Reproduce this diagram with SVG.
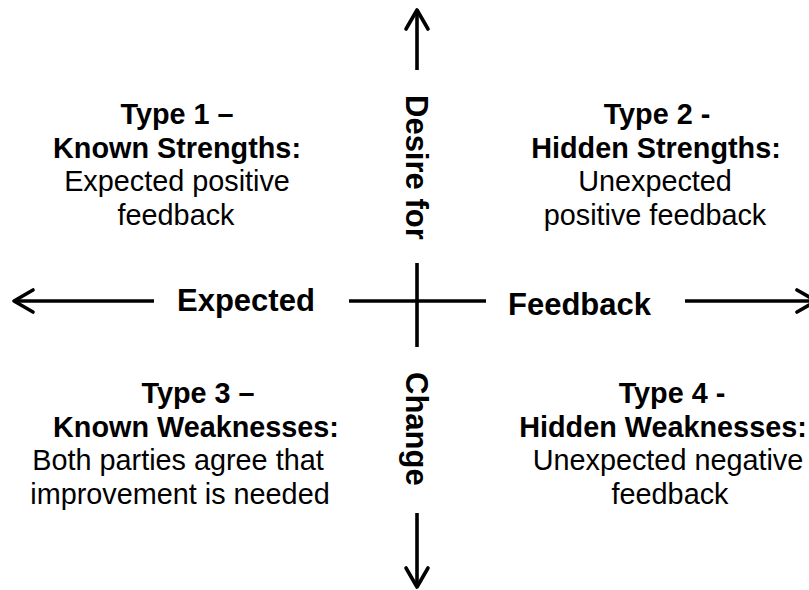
<svg xmlns="http://www.w3.org/2000/svg" width="809" height="590" viewBox="0 0 809 590">
  <style>
    .axis { stroke: #000; stroke-width: 3.6; fill: none; }
    .head { stroke: #000; stroke-width: 3.6; fill: none; stroke-linecap: round; stroke-linejoin: round; }
    text { font-family: "Liberation Sans", Arial, Helvetica, sans-serif; fill: #000; }
    .lbl { font-size: 31px; font-weight: bold; }
    .q { font-size: 28.8px; text-anchor: middle; }
    .b { font-weight: bold; }
  </style>
  <rect width="809" height="590" fill="#fff"/>

  <!-- axes -->
  <g id="connectors">
    <!-- horizontal axis -->
    <line class="axis" x1="14" y1="301" x2="154" y2="301"/>
    <line class="axis" x1="349" y1="301" x2="486" y2="301"/>
    <line class="axis" x1="685" y1="301" x2="814" y2="301"/>
    <polyline class="head" points="33,290 14,301 33,312"/>
    <polyline class="head" points="797,290 816,301 797,312"/>
    <!-- vertical axis -->
    <line class="axis" x1="417" y1="10" x2="417" y2="70"/>
    <line class="axis" x1="417" y1="263" x2="417" y2="347"/>
    <line class="axis" x1="417" y1="513" x2="417" y2="587"/>
    <polyline class="head" points="406,29 417,10 428,29"/>
    <polyline class="head" points="406,568 417,587 428,568"/>
  </g>

  <!-- axis labels -->
  <g id="axis-labels">
    <text class="lbl" x="177" y="311">Expected</text>
    <text class="lbl" x="508" y="315">Feedback</text>
    <text class="lbl" transform="translate(406,95) rotate(90)">Desire for</text>
    <text class="lbl" transform="translate(406,372) rotate(90)">Change</text>
  </g>

  <g id="type1">
    <text class="q b" x="177" y="124">Type 1 –</text>
    <text class="q b" x="177" y="158">Known Strengths:</text>
    <text class="q" x="177" y="191">Expected positive</text>
    <text class="q" x="176" y="225">feedback</text>
  </g>

  <g id="type2">
    <text class="q b" x="657" y="124">Type 2 -</text>
    <text class="q b" x="656" y="158">Hidden Strengths:</text>
    <text class="q" x="655" y="191">Unexpected</text>
    <text class="q" x="655" y="225">positive feedback</text>
  </g>

  <g id="type3">
    <text class="q b" x="198" y="403">Type 3 –</text>
    <text class="q b" x="196" y="437">Known Weaknesses:</text>
    <text class="q" x="178" y="470">Both parties agree that</text>
    <text class="q" x="180" y="504">improvement is needed</text>
  </g>

  <g id="type4">
    <text class="q b" x="672" y="403">Type 4 -</text>
    <text class="q b" x="663" y="437">Hidden Weaknesses:</text>
    <text class="q" x="668" y="470">Unexpected negative</text>
    <text class="q" x="670" y="504">feedback</text>
  </g>
</svg>
